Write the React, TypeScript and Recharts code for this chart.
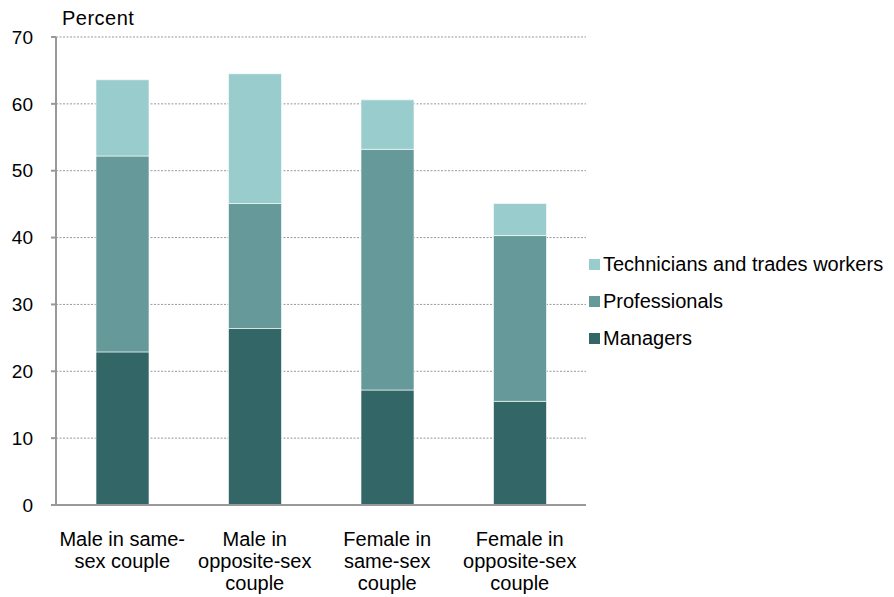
import React from "react";
import { BarChart, Bar, XAxis, YAxis, CartesianGrid } from "recharts";

const CATEGORIES = [
  ["Male in same-", "sex couple"],
  ["Male in", "opposite-sex", "couple"],
  ["Female in", "same-sex", "couple"],
  ["Female in", "opposite-sex", "couple"],
];

const MANAGERS = [22.9, 26.4, 17.2, 15.5];
const PROFESSIONALS = [29.3, 18.7, 36.0, 24.8];
const TECHNICIANS = [11.4, 19.4, 7.4, 4.8];

const Y_TICKS = [0, 10, 20, 30, 40, 50, 60, 70];

const SERIES = [
  { key: "Managers", color: "#336666" },
  { key: "Professionals", color: "#669999" },
  { key: "Technicians and trades workers", color: "#99CCCC" },
];

const FONT = "'Liberation Sans', Arial, sans-serif";

const data = CATEGORIES.map((lines, i) => ({
  name: lines.join(" "),
  Managers: MANAGERS[i],
  Professionals: PROFESSIONALS[i],
  "Technicians and trades workers": TECHNICIANS[i],
}));

function CategoryTick(props: any) {
  const { x, y, index } = props;
  const lines = CATEGORIES[index] ?? [];
  return (
    <text
      x={x}
      y={y}
      textAnchor="middle"
      fontFamily={FONT}
      fontSize={20}
      fill="#000"
    >
      {lines.map((l, i) => (
        <tspan key={i} x={x} y={y + 33 + i * 22}>
          {l}
        </tspan>
      ))}
    </text>
  );
}

// legend sits to the right of the plot, top series listed first
function LegendBox() {
  return (
    <div
      style={{
        position: "absolute",
        left: 589,
        top: 246,
        fontFamily: FONT,
        fontSize: 20,
        color: "#000",
      }}
    >
      {[...SERIES].reverse().map((s) => (
        <div
          key={s.key}
          style={{ display: "flex", alignItems: "center", height: 37, whiteSpace: "nowrap" }}
        >
          <span
            style={{
              display: "inline-block",
              width: 11,
              height: 11,
              background: s.color,
              marginRight: 3,
            }}
          />
          {s.key}
        </div>
      ))}
    </div>
  );
}

export default function App() {
  return (
    <div style={{ position: "absolute", left: 0, top: 0, width: 894, height: 597, background: "#fff" }}>
      <div
        style={{
          position: "absolute",
          left: 62,
          top: 7,
          fontFamily: FONT,
          fontSize: 20,
          letterSpacing: 0.5,
          color: "#000",
        }}
      >
        Percent
      </div>
      <BarChart
        width={894}
        height={597}
        data={data}
        margin={{ top: 37, right: 308, bottom: 0, left: 6 }}
        barSize={53}
      >
        <CartesianGrid
          vertical={false}
          stroke="#999"
          strokeDasharray="2 1.5"
          strokeWidth={1}
        />
        <XAxis
          dataKey="name"
          height={92}
          tickLine={false}
          axisLine={{ stroke: "#999", strokeWidth: 2 }}
          tick={<CategoryTick />}
          interval={0}
        />
        <YAxis
          width={50}
          domain={[0, 70]}
          ticks={Y_TICKS}
          tickSize={5}
          tickMargin={18}
          tickLine={{ stroke: "#999", strokeWidth: 2 }}
          axisLine={{ stroke: "#999", strokeWidth: 2 }}
          tick={{ fontFamily: FONT, fontSize: 19, fill: "#000" }}
        />
        {SERIES.map((s) => (
          <Bar
            key={s.key}
            dataKey={s.key}
            stackId="a"
            fill={s.color}
            stroke="#ffffff"
            strokeOpacity={0.6}
            strokeWidth={1}
            isAnimationActive={false}
          />
        ))}
      </BarChart>
      <LegendBox />
    </div>
  );
}
